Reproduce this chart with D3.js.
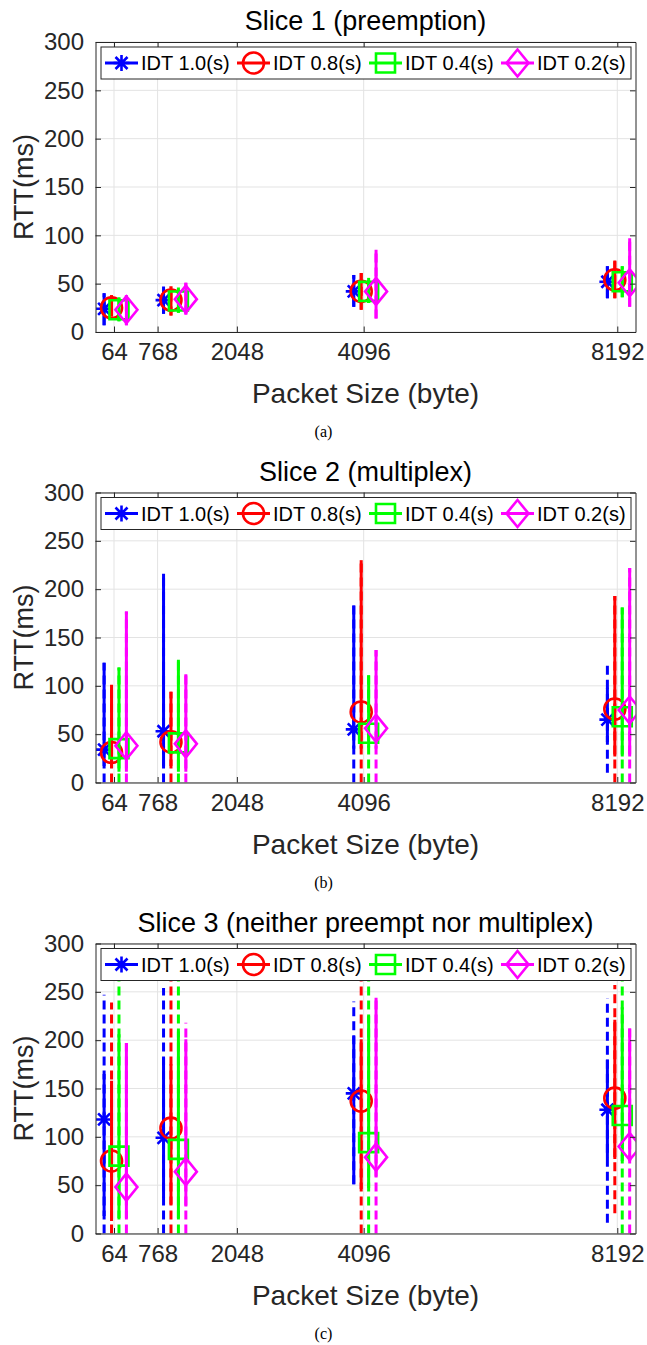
<!DOCTYPE html>
<html><head><meta charset="utf-8">
<script src="https://cdn.jsdelivr.net/npm/d3@7"></script>
<style>body{margin:0;background:#fff}svg{display:block}</style>
</head><body>
<svg id="chart" width="647" height="1345"></svg>
<script>
// ---------- data ----------
const groupSizes = [64, 1024, 4096, 8192];          // plotted packet-size positions
const tickValues = [64, 768, 2048, 4096, 8192];     // x tick labels
const yTicks = [0, 50, 100, 150, 200, 250, 300];
const seriesNames = ["IDT 1.0(s)", "IDT 0.8(s)", "IDT 0.4(s)", "IDT 0.2(s)"];
const seriesColors = ["#0000ff", "#ff0000", "#00ff00", "#ff00ff"];
const seriesMarkers = ["asterisk", "circle", "square", "diamond"];
const seriesOffsets = [-160, -40, 80, 200];         // byte offsets within a group
const panelTitles = ["Slice 1 (preemption)", "Slice 2 (multiplex)", "Slice 3 (neither preempt nor multiplex)"];
const panelCaptions = ["(a)", "(b)", "(c)"];

// Slice 1 (rows = series, cols = groups)
const s1Mean = [[24, 33, 42, 52], [25, 33, 42, 54], [23, 32, 42, 52], [23, 34, 42, 51]];
const s1Lo   = [[7, 19, 26, 35], [16, 17, 23, 35], [11, 20, 30, 36], [7, 18, 14, 26]];
const s1Hi   = [[40, 47, 59, 68], [38, 47, 61, 74], [36, 46, 56, 68], [38, 51, 85, 97]];
const s1Min  = [[7, 19, 26, 35], [16, 17, 23, 35], [11, 20, 30, 36], [7, 18, 14, 26]];
const s1Max  = [[40, 47, 59, 68], [38, 47, 61, 74], [36, 46, 56, 68], [38, 51, 85, 97]];

// Slice 2
const s2Mean = [[34, 53, 55, 65], [31, 42, 73, 76], [35, 41, 51, 68], [38, 40, 56, 75]];
const s2Lo   = [[17, 17, 35, 42], [15, 17, 35, 27], [11, 11, 36, 27], [11, 11, 35, 27]];
const s2Hi   = [[124, 216, 183, 98], [101, 94, 230, 193], [119, 127, 111, 181], [177, 112, 137, 222]];
const s2Min  = [[0, 0, 0, 10], [0, 0, 0, 0], [0, 0, 0, 0], [0, 0, 0, 0]];
const s2Max  = [[124, 216, 183, 122], [101, 94, 230, 193], [119, 127, 111, 181], [177, 112, 137, 222]];

// Slice 3
const s3Mean = [[118, 99, 145, 128], [75, 109, 137, 140], [80, 87, 94, 122], [48, 64, 79, 90]];
const s3Lo   = [[18, 37, 51, 78], [13, 30, 46, 77], [16, 16, 47, 75], [16, 28, 59, 75]];
const s3Hi   = [[165, 182, 204, 180], [158, 175, 201, 221], [206, 209, 225, 234], [197, 201, 244, 212]];
const s3Min  = [[0, 0, 51, 11], [0, 0, 0, 21], [0, 0, 0, 0], [0, 0, 0, 0]];
const s3Max  = [[247, 254, 240, 243], [239, 290, 290, 257], [290, 290, 290, 290], [197, 218, 244, 212]];

const panels = [
  {mean: s1Mean, lo: s1Lo, hi: s1Hi, min: s1Min, max: s1Max},
  {mean: s2Mean, lo: s2Lo, hi: s2Hi, min: s2Min, max: s2Max},
  {mean: s3Mean, lo: s3Lo, hi: s3Hi, min: s3Min, max: s3Max}
];

// ---------- layout ----------
const panelTops = [42, 492.5, 943.5];
const ph = 290, left = 95.5, right = 635.5;
const font = "'Liberation Sans', Arial, Helvetica, sans-serif";
const axisColor = "#262626";
const gridColor = "#e3e3e3";

const svg = d3.select("#chart");
svg.append("rect").attr("width", 647).attr("height", 1345).attr("fill", "#fff");
const x = d3.scaleLinear().domain([-235, 8486]).range([left, right]);

function markerPath(type, cx, cy) {
  if (type === "asterisk") {
    const s = 8, d = 6;
    return `M${cx - s},${cy}H${cx + s}M${cx},${cy - s}V${cy + s}M${cx - d},${cy - d}L${cx + d},${cy + d}M${cx - d},${cy + d}L${cx + d},${cy - d}`;
  }
  if (type === "circle") {
    const r = 10.5;
    return `M${cx - r},${cy}A${r},${r} 0 1,0 ${cx + r},${cy}A${r},${r} 0 1,0 ${cx - r},${cy}Z`;
  }
  if (type === "square") {
    const h = 9.5;
    return `M${cx - h},${cy - h}H${cx + h}V${cy + h}H${cx - h}Z`;
  }
  const w = 11, hh = 13.5;
  return `M${cx},${cy - hh}L${cx + w},${cy}L${cx},${cy + hh}L${cx - w},${cy}Z`;
}

panels.forEach((p, pi) => {
  const top = panelTops[pi], bottom = top + ph;
  const y = d3.scaleLinear().domain([0, 300]).range([bottom, top]);
  const g = svg.append("g");

  // grid
  g.append("g").selectAll("line").data(tickValues).join("line")
    .attr("x1", d => x(d)).attr("x2", d => x(d)).attr("y1", top).attr("y2", bottom)
    .attr("stroke", gridColor).attr("stroke-width", 1);
  g.append("g").selectAll("line").data(yTicks).join("line")
    .attr("x1", left).attr("x2", right).attr("y1", d => y(d)).attr("y2", d => y(d))
    .attr("stroke", gridColor).attr("stroke-width", 1);

  // clip
  const clipId = "clip" + pi;
  svg.append("clipPath").attr("id", clipId).append("rect")
    .attr("x", left).attr("y", top).attr("width", right - left).attr("height", ph);

  const recs = [];
  seriesNames.forEach((name, s) => {
    groupSizes.forEach((gs, k) => {
      recs.push({s, k, xv: gs + seriesOffsets[s], mean: p.mean[s][k], lo: p.lo[s][k], hi: p.hi[s][k], mn: p.min[s][k], mx: p.max[s][k]});
    });
  });

  const dg = g.append("g").attr("clip-path", `url(#${clipId})`);
  const sg = dg.selectAll("g.ser").data(recs).join("g").attr("class", "ser");
  sg.append("line")
    .attr("x1", d => x(d.xv)).attr("x2", d => x(d.xv))
    .attr("y1", d => y(d.mn)).attr("y2", d => y(d.mx))
    .attr("stroke", d => seriesColors[d.s]).attr("stroke-width", 3)
    .attr("stroke-dasharray", "9,5");
  sg.append("line")
    .attr("x1", d => x(d.xv)).attr("x2", d => x(d.xv))
    .attr("y1", d => y(d.lo)).attr("y2", d => y(d.hi))
    .attr("stroke", d => seriesColors[d.s]).attr("stroke-width", 3);
  sg.append("path")
    .attr("d", d => markerPath(seriesMarkers[d.s], x(d.xv), y(d.mean)))
    .attr("fill", "none").attr("stroke", d => seriesColors[d.s]).attr("stroke-width", 2.6);

  // axes
  const ax = g.append("g");
  const bAxis = ax.append("g").attr("transform", `translate(0,${bottom})`)
    .call(d3.axisBottom(x).tickValues(tickValues).tickFormat(d3.format("d")).tickSizeInner(-5.5).tickSizeOuter(0).tickPadding(11));
  const tAxis = ax.append("g").attr("transform", `translate(0,${top})`)
    .call(d3.axisTop(x).tickValues(tickValues).tickFormat("").tickSizeInner(-5.5).tickSizeOuter(0));
  const lAxis = ax.append("g").attr("transform", `translate(${left},0)`)
    .call(d3.axisLeft(y).tickValues(yTicks).tickSizeInner(-5.5).tickSizeOuter(0).tickPadding(11.5));
  const rAxis = ax.append("g").attr("transform", `translate(${right},0)`)
    .call(d3.axisRight(y).tickValues(yTicks).tickFormat("").tickSizeInner(-5.5).tickSizeOuter(0));
  [bAxis, tAxis, lAxis, rAxis].forEach(a => {
    a.attr("font-family", font).attr("font-size", 24);
    a.selectAll("path.domain").attr("stroke", axisColor).attr("stroke-width", 1);
    a.selectAll(".tick line").attr("stroke", axisColor).attr("stroke-width", 1);
    a.selectAll(".tick text").attr("fill", axisColor);
  });

  // labels
  g.append("text").attr("x", (left + right) / 2).attr("y", top - 12)
    .attr("text-anchor", "middle").attr("font-family", font).attr("font-size", 27)
    .attr("fill", "#000").text(panelTitles[pi]);
  g.append("text").attr("x", (left + right) / 2).attr("y", bottom + 71)
    .attr("text-anchor", "middle").attr("font-family", font).attr("font-size", 28)
    .attr("fill", axisColor).text("Packet Size (byte)");
  g.append("text").attr("transform", `translate(33,${(top + bottom) / 2}) rotate(-90)`)
    .attr("text-anchor", "middle").attr("font-family", font).attr("font-size", 27)
    .attr("fill", axisColor).text("RTT(ms)");
  g.append("text").attr("x", 323.5).attr("y", bottom + 105)
    .attr("text-anchor", "middle").attr("font-family", "'Liberation Serif', 'Times New Roman', serif")
    .attr("font-size", 16).attr("fill", "#000").text(panelCaptions[pi]);

  // legend
  const lg = g.append("g");
  const ly = top + 5, lh = 32, cy = ly + lh / 2;
  lg.append("rect").attr("x", 101).attr("y", ly).attr("width", 530).attr("height", lh)
    .attr("fill", "#fff").attr("stroke", axisColor).attr("stroke-width", 1);
  const le = lg.selectAll("g.le").data(seriesNames).join("g").attr("class", "le");
  le.append("line").attr("x1", (d, i) => 105 + i * 132).attr("x2", (d, i) => 138 + i * 132)
    .attr("y1", cy).attr("y2", cy).attr("stroke", (d, i) => seriesColors[i]).attr("stroke-width", 3);
  le.append("path").attr("d", (d, i) => markerPath(seriesMarkers[i], 121.5 + i * 132, cy))
    .attr("fill", "none").attr("stroke", (d, i) => seriesColors[i]).attr("stroke-width", 2.6);
  le.append("text").attr("x", (d, i) => 141 + i * 132).attr("y", cy + 7)
    .attr("font-family", font).attr("font-size", 20).attr("fill", "#000").text(d => d);
});
</script>
</body></html>
